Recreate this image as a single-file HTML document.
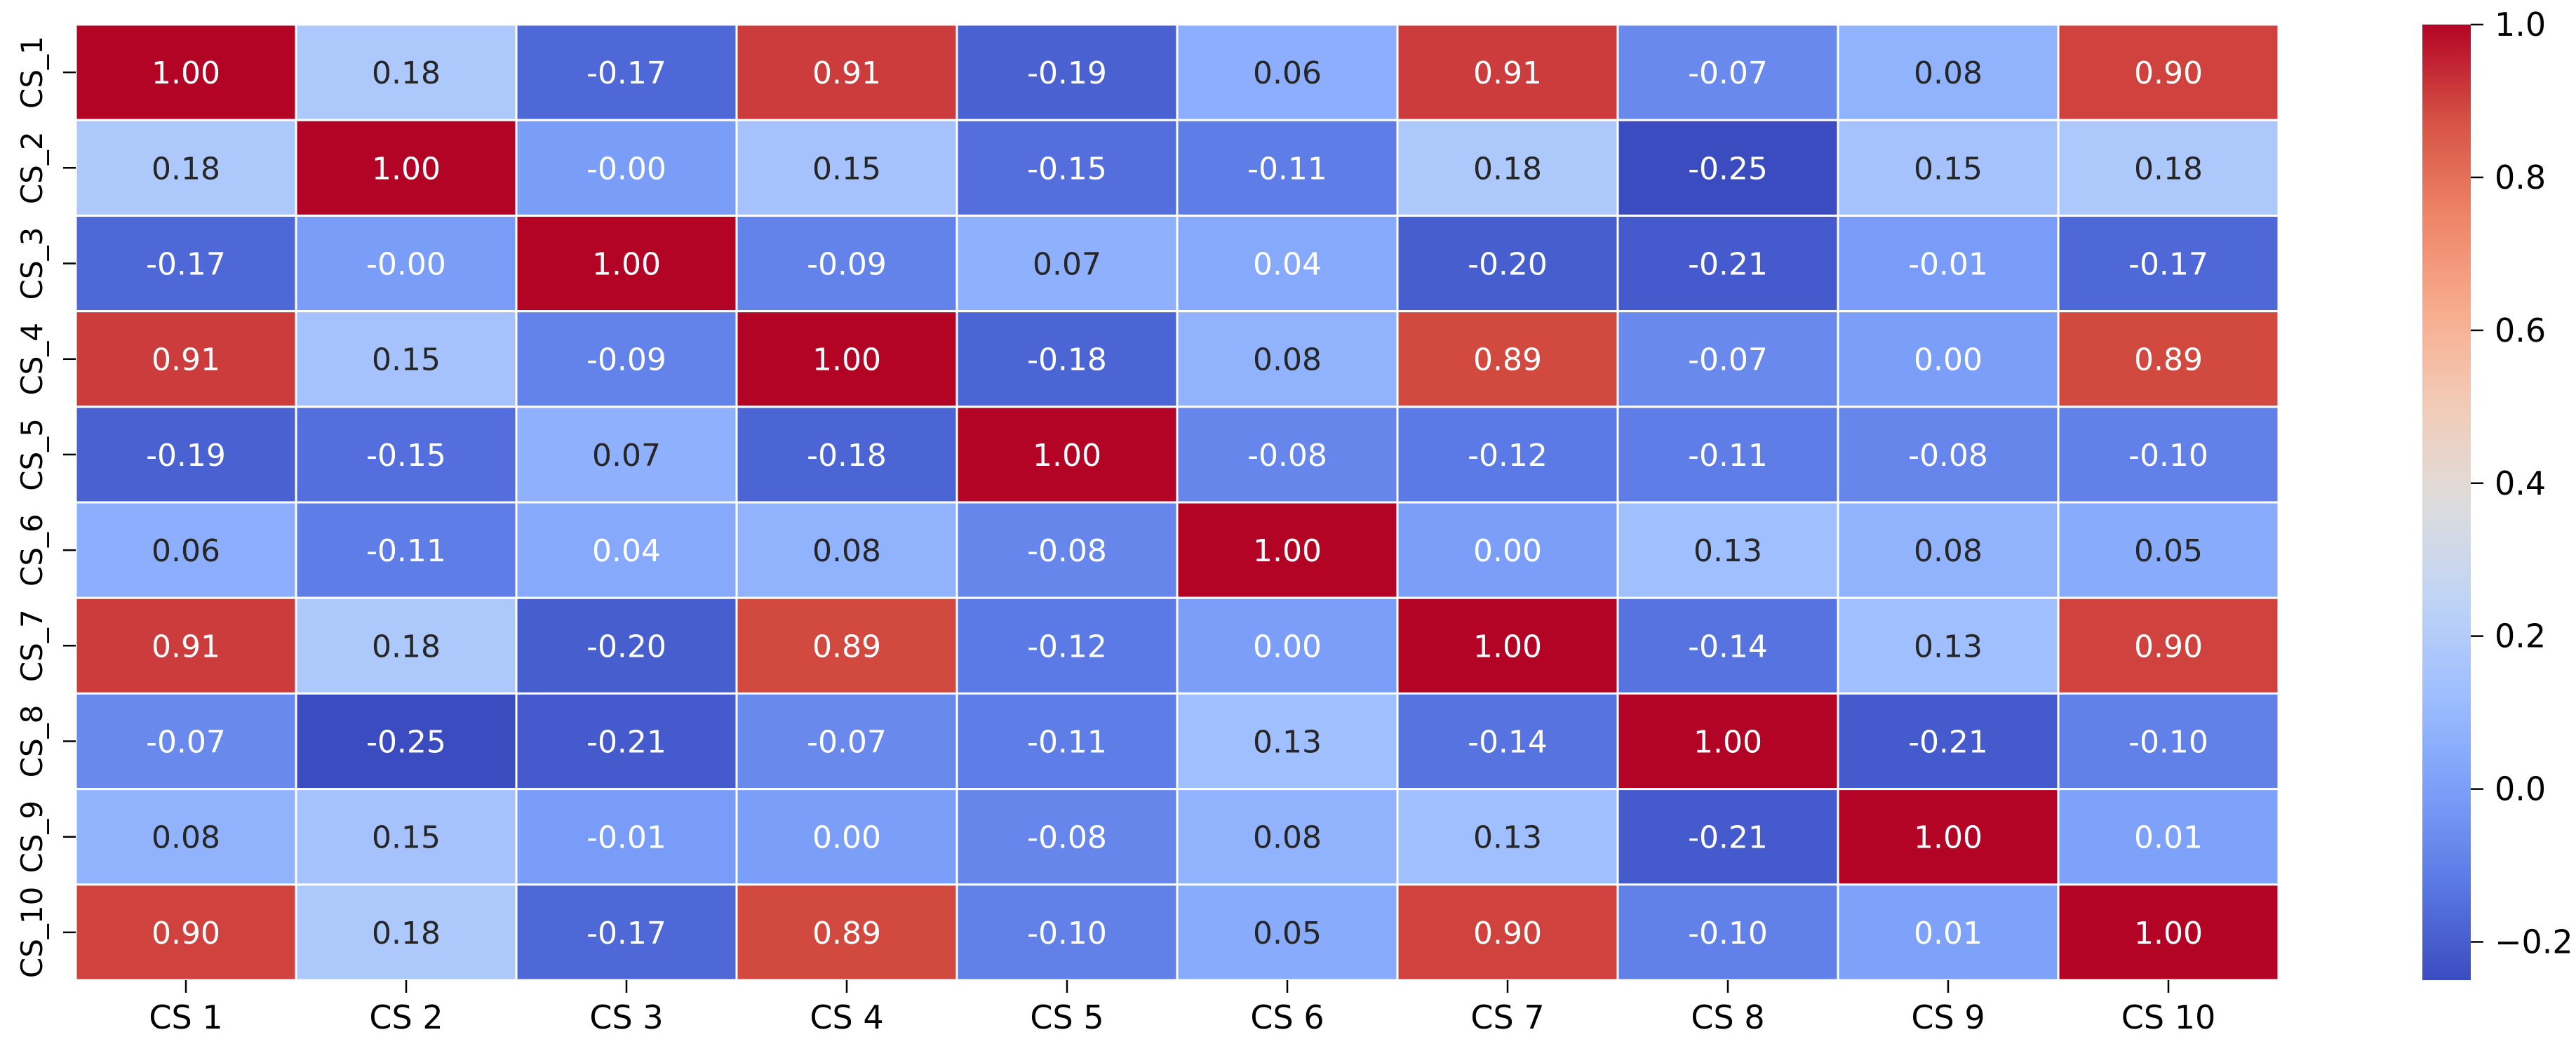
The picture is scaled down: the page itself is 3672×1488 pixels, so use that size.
<!DOCTYPE html>
<html><head><meta charset="utf-8"><style>
html,body{margin:0;padding:0;background:#fff;}
svg{display:block;}
text{font-family:"DejaVu Sans","Liberation Sans",sans-serif;}
</style></head><body>
<svg id="chart" width="3672" height="1488" xmlns="http://www.w3.org/2000/svg">
<g id="cells"></g>
<g id="xaxis"></g>
<g id="yaxis"></g>
<g id="cbar"></g>
</svg>
<script>
const rowLabels = ["CS_1","CS_2","CS_3","CS_4","CS_5","CS_6","CS_7","CS_8","CS_9","CS_10"];
const colLabels = ["CS 1","CS 2","CS 3","CS 4","CS 5","CS 6","CS 7","CS 8","CS 9","CS 10"];
const row1 = [1.00,0.18,-0.17,0.91,-0.19,0.06,0.91,-0.07,0.08,0.90];
const row2 = [0.18,1.00,-0.004,0.15,-0.15,-0.11,0.18,-0.25,0.15,0.18];
const row3 = [-0.17,-0.004,1.00,-0.09,0.07,0.04,-0.20,-0.21,-0.01,-0.17];
const row4 = [0.91,0.15,-0.09,1.00,-0.18,0.08,0.89,-0.07,0.00,0.89];
const row5 = [-0.19,-0.15,0.07,-0.18,1.00,-0.08,-0.12,-0.11,-0.08,-0.10];
const row6 = [0.06,-0.11,0.04,0.08,-0.08,1.00,0.00,0.13,0.08,0.05];
const row7 = [0.91,0.18,-0.20,0.89,-0.12,0.00,1.00,-0.14,0.13,0.90];
const row8 = [-0.07,-0.25,-0.21,-0.07,-0.11,0.13,-0.14,1.00,-0.21,-0.10];
const row9 = [0.08,0.15,-0.01,0.00,-0.08,0.08,0.13,-0.21,1.00,0.01];
const row10 = [0.90,0.18,-0.17,0.89,-0.10,0.05,0.90,-0.10,0.01,1.00];
const cbarTicks = [1.0,0.8,0.6,0.4,0.2,0.0,-0.2];
const cbarTickLabels = ["1.0","0.8","0.6","0.4","0.2","0.0","\u22120.2"];
const vmin = -0.25, vmax = 1.0;

const matrix = [row1,row2,row3,row4,row5,row6,row7,row8,row9,row10];
const NS = "http://www.w3.org/2000/svg";
const L = 108, T = 35, W = 3248 - 108, H = 1397 - 35;
const cw = W / colLabels.length, ch = H / rowLabels.length;
const xPos = i => L + i * cw;
const yPos = j => T + j * ch;

const stops = [[59,76,192],[90,120,228],[123,159,249],[158,190,255],[192,212,245],[221,220,220],[242,203,183],[247,172,142],[238,132,104],[214,82,68],[180,4,38]];
function cmap(v){
  let t = (v - vmin) / (vmax - vmin); t = Math.max(0, Math.min(1, t));
  const p = t * 10, i = Math.min(9, Math.floor(p)), f = p - i;
  const a = stops[i], b = stops[i+1];
  return a.map((c,k)=>Math.round(c + (b[k]-c)*f));
}
function lum(rgb){
  const c = rgb.map(x=>{x/=255;return x<=0.03928?x/12.92:Math.pow((x+0.055)/1.055,2.4);});
  return 0.2126*c[0]+0.7152*c[1]+0.0722*c[2];
}
function mk(tag, attrs, parent){
  const e = document.createElementNS(NS, tag);
  for (const k in attrs) e.setAttribute(k, attrs[k]);
  parent.appendChild(e); return e;
}
const cells = document.getElementById('cells');
matrix.forEach((row, j) => {
  row.forEach((v, i) => {
    const rgb = cmap(v);
    const r = mk('rect', {x:xPos(i), y:yPos(j), width:cw, height:ch, fill:`rgb(${rgb.join(',')})`, stroke:'#fff', 'stroke-width':3}, cells);
    
    
    const t = mk('text', {x:xPos(i)+cw/2, y:yPos(j)+ch/2+16, 'text-anchor':'middle', 'font-size':44, fill: lum(rgb) < 0.408 ? '#fff' : '#262626'}, cells);
    t.textContent = v.toFixed(2);
    
    
  });
});
const xa = document.getElementById('xaxis');
colLabels.forEach((lab, i) => {
  const cx = xPos(i) + cw/2;
  const tk = mk('line', {x1:cx, x2:cx, y1:T+H, y2:T+H+18, stroke:'#000', 'stroke-width':2.5}, xa);
  
  
  const t = mk('text', {x:cx, y:1466, 'text-anchor':'middle', 'font-size':46, fill:'#000'}, xa);
  t.textContent = lab;
  
  
});
const ya = document.getElementById('yaxis');
rowLabels.forEach((lab, j) => {
  const cy = yPos(j) + ch/2;
  const tk = mk('line', {x1:L-18, x2:L, y1:cy, y2:cy, stroke:'#000', 'stroke-width':2.5}, ya);
  
  
  const t = mk('text', {x:0, y:0, transform:`translate(60,${cy}) rotate(-90)`, 'text-anchor':'middle', 'font-size':42, fill:'#000'}, ya);
  t.textContent = lab;
  
  
});
const cb = document.getElementById('cbar');
const CBL = 3453, CBW = 69;
const cy = v => T + (vmax - v) / (vmax - vmin) * H;
const defs = mk('defs', {}, cb);
const grad = mk('linearGradient', {id:'cg', x1:0, y1:1, x2:0, y2:0}, defs);
for (let k = 0; k <= 20; k++) {
  const v = vmin + (vmax - vmin) * k / 20;
  mk('stop', {offset: k/20, 'stop-color': `rgb(${cmap(v).join(',')})`}, grad);
}
const bar = mk('rect', {x:CBL, y:T, width:CBW, height:H, fill:'url(#cg)'}, cb);


cbarTicks.forEach((v, k) => {
  const y = cy(v);
  const tk = mk('line', {x1:CBL+CBW, x2:CBL+CBW+18, y1:y, y2:y, stroke:'#000', 'stroke-width':2.5}, cb);
  
  
  const t = mk('text', {x:3556, y:y+16, 'font-size':46, fill:'#000'}, cb);
  t.textContent = cbarTickLabels[k];
  
  
});
</script>
</body></html>
